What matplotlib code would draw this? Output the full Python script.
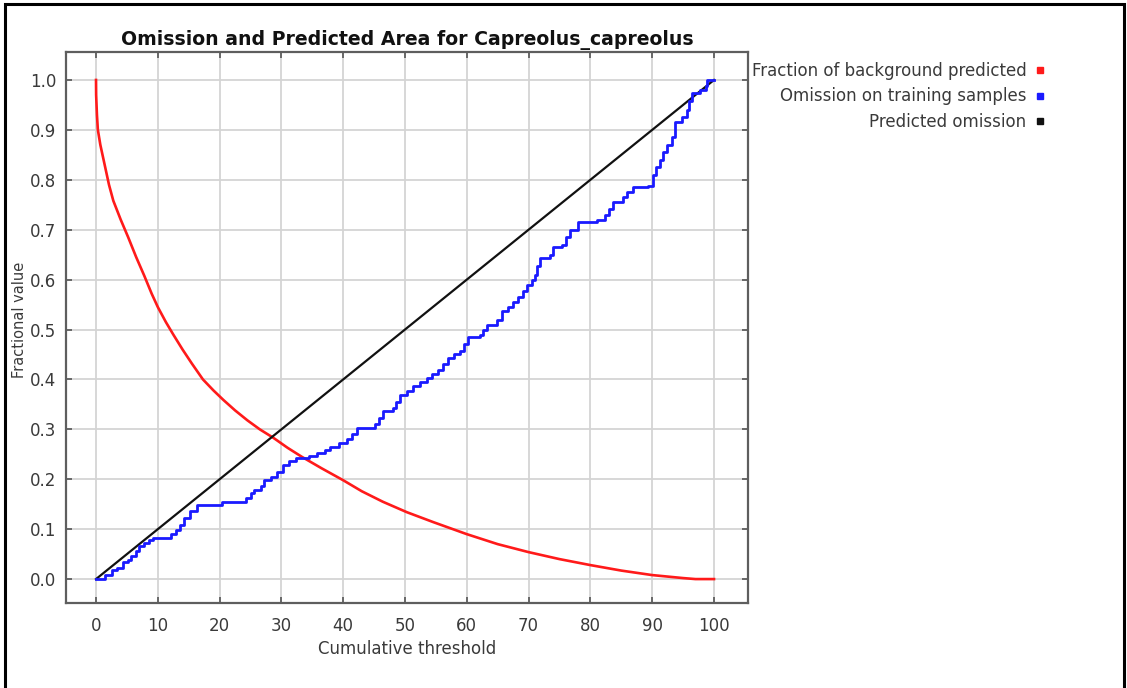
import matplotlib
matplotlib.use('Agg')
import matplotlib.pyplot as plt
from matplotlib.lines import Line2D
from matplotlib.patches import Rectangle

plt.rcParams['font.family'] = ['DejaVu Sans']

# fraction of background predicted (red)
bg_x = [0, 0.02, 0.15, 0.3, 0.7, 1.4, 2.1, 2.8, 4.0, 5.2, 6.5, 7.8, 9.0, 10.0, 11.3, 12.5,
        14.0, 15.5, 17.3, 19.0, 20.6, 22.5, 24.5, 26.5, 28.7, 31.0, 33.3, 36.5, 40, 43,
        46.4, 50.3, 54.6, 60, 65, 70, 75, 80, 85, 90, 95, 97, 100]
bg_y = [1.0, 0.97, 0.93, 0.9, 0.87, 0.83, 0.79, 0.758, 0.72, 0.685, 0.645, 0.608, 0.572,
        0.545, 0.515, 0.49, 0.46, 0.432, 0.4, 0.378, 0.359, 0.338, 0.318, 0.3, 0.283, 0.263,
        0.245, 0.222, 0.198, 0.176, 0.155, 0.134, 0.114, 0.09, 0.07, 0.054, 0.04, 0.028,
        0.017, 0.008, 0.002, 0.0, 0.0]

# omission on training samples (blue), step levels
om_x = [0, 1.5, 2.6, 3.4, 4.3, 5.1, 5.6, 6.4, 7.0, 7.8, 8.6, 9.2, 12.2, 12.9, 13.6, 14.3,
        15.2, 16.3, 20.4, 24.2, 25.0, 25.6, 26.7, 27.2, 28.3, 29.3, 30.3, 31.3, 32.3, 34.5,
        35.8, 37.0, 37.9, 39.3, 40.6, 41.5, 42.2, 45.1, 45.8, 46.5, 48.0, 48.6, 49.2, 50.3,
        51.3, 52.5, 53.5, 54.4, 55.3, 56.2, 57.0, 58.0, 58.9, 59.6, 60.2, 62.1, 62.7, 63.2,
        64.9, 65.7, 66.6, 67.5, 68.3, 69.1, 69.7, 70.5, 71.0, 71.4, 71.8, 73.5, 74.0, 75.4,
        76.0, 76.7, 78.0, 81.0, 82.4, 83.0, 83.7, 85.3, 86.0, 86.9, 89.3, 90.1, 90.6, 91.3,
        91.8, 92.4, 93.2, 93.7, 94.8, 95.6, 96.0, 96.4, 97.7, 98.7, 98.9, 100]
om_y = [0, 0.008, 0.018, 0.022, 0.035, 0.039, 0.046, 0.056, 0.066, 0.073, 0.078, 0.082, 0.09,
        0.098, 0.108, 0.122, 0.137, 0.148, 0.154, 0.162, 0.172, 0.178, 0.186, 0.198, 0.205,
        0.215, 0.228, 0.236, 0.242, 0.247, 0.252, 0.258, 0.264, 0.272, 0.28, 0.29, 0.302,
        0.31, 0.322, 0.336, 0.342, 0.355, 0.368, 0.376, 0.386, 0.394, 0.403, 0.41, 0.419,
        0.43, 0.443, 0.45, 0.457, 0.47, 0.485, 0.49, 0.5, 0.509, 0.519, 0.537, 0.545, 0.555,
        0.566, 0.578, 0.589, 0.6, 0.61, 0.628, 0.643, 0.65, 0.665, 0.67, 0.685, 0.699, 0.715,
        0.72, 0.73, 0.742, 0.755, 0.766, 0.775, 0.785, 0.788, 0.809, 0.825, 0.84, 0.855,
        0.87, 0.886, 0.916, 0.926, 0.94, 0.958, 0.974, 0.98, 0.987, 1.0, 1.0]

# predicted omission (black)
pred_x = [0, 100]
pred_y = [0, 1]

labels = ['Fraction of background predicted', 'Omission on training samples', 'Predicted omission']
colors = ['#ff1a1a', '#1a1aff', '#111111']
text_c = '#3a3a3a'

fig = plt.figure(figsize=(11.27, 6.88), dpi=100)
ax = fig.add_axes([0.0586, 0.1235, 0.6051, 0.8009])

ax.plot(bg_x, bg_y, color=colors[0], lw=1.9, zorder=3)
ax.plot(om_x, om_y, color=colors[1], lw=2.0, drawstyle='steps-post', zorder=4)
ax.plot(pred_x, pred_y, color=colors[2], lw=1.6, zorder=3)

ax.set_xlim(-4.85, 105.5)
ax.set_ylim(-0.048, 1.056)
ax.set_xticks(range(0, 101, 10))
ax.set_yticks([i / 10 for i in range(11)])
ax.set_yticklabels(['%.1f' % (i / 10) for i in range(11)])
ax.grid(True, color='#d4d4d4', lw=1.3)
ax.set_axisbelow(True)
ax.tick_params(direction='in', length=4, width=1.2, color='#555555',
               top=True, right=True, labelsize=12, labelcolor=text_c)
ax.tick_params(axis='x', pad=10)
ax.tick_params(axis='y', pad=7)
for s in ax.spines.values():
    s.set_color('#5e5e5e')
    s.set_linewidth(1.6)

ax.set_title('Omission and Predicted Area for Capreolus_capreolus',
             fontsize=13.6, fontweight='bold', color='#111111', pad=5)
ax.set_xlabel('Cumulative threshold', fontsize=12, color=text_c, labelpad=4)
ax.set_ylabel('Fractional value', fontsize=10.5, color=text_c)
ax.yaxis.set_label_coords(-0.057, 0.513)

handles = [Line2D([], [], marker='s', ls='', color=c, markersize=4.5) for c in colors]
fig.legend(handles, labels, loc='upper right', bbox_to_anchor=(0.9272, 0.91),
           frameon=False, markerfirst=False, fontsize=12, labelcolor=text_c,
           handlelength=0.6, handletextpad=0.5, labelspacing=0.45, borderpad=0,
           borderaxespad=0)

fig.add_artist(Rectangle((5 / 1127, -0.01), 1119 / 1127, 1 - 4 / 688 + 0.01,
                         transform=fig.transFigure, fill=False, ec='black', lw=2.2))

fig.savefig('out.png', dpi=100, facecolor='white')
